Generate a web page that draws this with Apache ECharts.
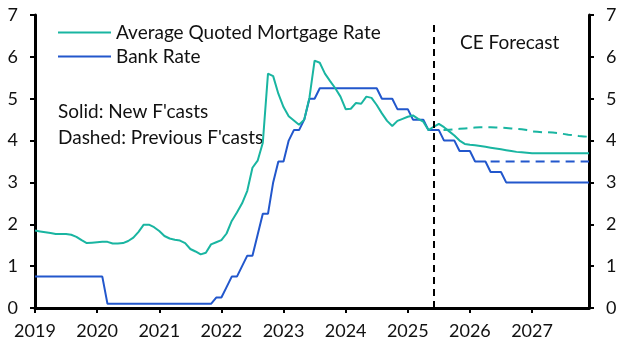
<!DOCTYPE html>
<html>
<head>
<meta charset="utf-8">
<script src="https://cdn.jsdelivr.net/npm/echarts@6/dist/echarts.min.js"></script>
<style>
  html, body { margin: 0; padding: 0; background: #fff; }
  #chart { width: 629px; height: 354px; }
</style>
</head>
<body>
<div id="chart"></div>
<script>
// --- data (monthly, Jan 2019 - Dec 2027) ---
const startYear = 2019;
const endYear = 2027;
const months = [];
for (let y = startYear; y <= endYear; y++) {
  for (let m = 1; m <= 12; m++) months.push(y + '-' + String(m).padStart(2, '0'));
}

const yTicks = [0, 1, 2, 3, 4, 5, 6, 7];

// Average quoted mortgage rate (history + new forecast)
const mortgageRate = [
  1.85, 1.83, 1.81, 1.79, 1.77, 1.77, 1.77, 1.75, 1.70, 1.62, 1.55, 1.56,
  1.57, 1.58, 1.58, 1.54, 1.54, 1.55, 1.60, 1.68, 1.82, 1.99, 1.99, 1.93,
  1.84, 1.72, 1.66, 1.63, 1.61, 1.55, 1.41, 1.35, 1.28, 1.32, 1.52, 1.57,
  1.62, 1.78, 2.08, 2.28, 2.50, 2.80, 3.35, 3.52, 3.95, 5.60, 5.54, 5.12,
  4.80, 4.58, 4.48, 4.38, 4.50, 5.02, 5.91, 5.86, 5.60, 5.42, 5.25, 5.05,
  4.75, 4.76, 4.90, 4.88, 5.05, 5.02, 4.85, 4.65, 4.47, 4.35, 4.47, 4.52,
  4.57, 4.60, 4.52, 4.45, 4.25, 4.33, 4.40, 4.32, 4.22, 4.12, 4.00, 3.92,
  3.90, 3.89, 3.87, 3.85, 3.83, 3.81, 3.79, 3.77, 3.75, 3.73, 3.72, 3.71,
  3.70, 3.70, 3.70, 3.70, 3.70, 3.70, 3.70, 3.70, 3.70, 3.70, 3.70, 3.70
];

// Bank Rate (history + new forecast)
const bankRate = [
  0.75, 0.75, 0.75, 0.75, 0.75, 0.75, 0.75, 0.75, 0.75, 0.75, 0.75, 0.75,
  0.75, 0.75, 0.10, 0.10, 0.10, 0.10, 0.10, 0.10, 0.10, 0.10, 0.10, 0.10,
  0.10, 0.10, 0.10, 0.10, 0.10, 0.10, 0.10, 0.10, 0.10, 0.10, 0.10, 0.25,
  0.25, 0.50, 0.75, 0.75, 1.00, 1.25, 1.25, 1.75, 2.25, 2.25, 3.00, 3.50,
  3.50, 4.00, 4.25, 4.25, 4.50, 5.00, 5.00, 5.25, 5.25, 5.25, 5.25, 5.25,
  5.25, 5.25, 5.25, 5.25, 5.25, 5.25, 5.25, 5.00, 5.00, 5.00, 4.75, 4.75,
  4.75, 4.50, 4.50, 4.50, 4.25, 4.25, 4.25, 4.00, 4.00, 4.00, 3.75, 3.75,
  3.75, 3.50, 3.50, 3.50, 3.25, 3.25, 3.25, 3.00, 3.00, 3.00, 3.00, 3.00,
  3.00, 3.00, 3.00, 3.00, 3.00, 3.00, 3.00, 3.00, 3.00, 3.00, 3.00, 3.00
];

// Previous forecasts (dashed), starting at the given month
const prevMortgageStart = '2025-05';
const prevMortgage = [
  4.25, 4.25, 4.25, 4.25, 4.26, 4.27, 4.28, 4.29, 4.30, 4.31, 4.32, 4.32,
  4.32, 4.31, 4.31, 4.30, 4.29, 4.28, 4.27, 4.25, 4.22, 4.21, 4.20, 4.20,
  4.19, 4.18, 4.16, 4.14, 4.13, 4.11, 4.10, 4.09
];
const prevBankStart = '2026-05';
const prevBank = [
  3.50, 3.50, 3.50, 3.50, 3.50, 3.50, 3.50, 3.50, 3.50, 3.50,
  3.50, 3.50, 3.50, 3.50, 3.50, 3.50, 3.50, 3.50, 3.50, 3.50
];

const forecastStart = '2025-06';

// 把前一次预测放到完整的月份序列上
const padFrom = (start, vals) => {
  const idx = months.indexOf(start);
  return months.map((_, i) => (i >= idx && i - idx < vals.length ? vals[i - idx] : null));
};

const TEAL = '#19b5a1';
const BLUE = '#2257cc';
const FONT = 'Lato';

const chart = echarts.init(document.getElementById('chart'));

const axisLine = { show: true, lineStyle: { color: '#000', width: 3 } };
const axisTick = { show: true, inside: false, length: 5, lineStyle: { color: '#000', width: 2 } };
const yLabel = { color: '#111', fontSize: 18, fontFamily: FONT, margin: 17 };

chart.setOption({
  animation: false,
  grid: { left: 35, right: 40, top: 15, bottom: 46, containLabel: false },
  legend: {
    data: ['Average Quoted Mortgage Rate', 'Bank Rate'],
    orient: 'vertical',
    left: 58,
    top: 22,
    padding: 0,
    icon: 'rect',
    itemWidth: 53,
    itemHeight: 2,
    itemGap: 3,
    textStyle: { color: '#111', fontSize: 19, fontFamily: FONT, lineHeight: 21 }
  },
  xAxis: {
    type: 'category',
    data: months,
    boundaryGap: false,
    axisLine: axisLine,
    axisTick: { ...axisTick, interval: (i) => i % 12 === 0 },
    axisLabel: {
      color: '#111', fontSize: 18, fontFamily: FONT, margin: 14,
      interval: (i) => i % 12 === 0,
      formatter: (v) => v.slice(0, 4)
    },
    splitLine: { show: false }
  },
  yAxis: [
    {
      type: 'value', position: 'left', min: yTicks[0], max: yTicks[yTicks.length - 1], interval: 1,
      axisLine: axisLine, axisTick: axisTick, axisLabel: yLabel, splitLine: { show: false }
    },
    {
      type: 'value', position: 'right', min: yTicks[0], max: yTicks[yTicks.length - 1], interval: 1,
      axisLine: axisLine, axisTick: axisTick, axisLabel: yLabel, splitLine: { show: false }
    }
  ],
  graphic: [
    { type: 'text', left: 58, top: 102, style: { text: "Solid: New F'casts", fill: '#111', font: '19px ' + FONT } },
    { type: 'text', left: 58, top: 128, style: { text: "Dashed: Previous F'casts", fill: '#111', font: '19px ' + FONT } },
    { type: 'text', left: 460, top: 33, style: { text: 'CE Forecast', fill: '#111', font: '19px ' + FONT } }
  ],
  series: [
    {
      name: 'prevMortgage', type: 'line', data: padFrom(prevMortgageStart, prevMortgage),
      showSymbol: false, symbol: 'none', z: 2,
      lineStyle: { color: TEAL, width: 2, type: [9, 6] }
    },
    {
      name: 'prevBank', type: 'line', data: padFrom(prevBankStart, prevBank),
      showSymbol: false, symbol: 'none', z: 2,
      lineStyle: { color: BLUE, width: 2, type: [9, 6] }
    },
    {
      name: 'Bank Rate', type: 'line', data: bankRate, color: BLUE,
      showSymbol: false, symbol: 'none', z: 3,
      lineStyle: { color: BLUE, width: 2 }
    },
    {
      name: 'Average Quoted Mortgage Rate', type: 'line', data: mortgageRate, color: TEAL,
      showSymbol: false, symbol: 'none', z: 4,
      lineStyle: { color: TEAL, width: 2 },
      markLine: {
        silent: true,
        symbol: 'none',
        label: { show: false },
        lineStyle: { color: '#000', width: 2, type: [7, 5] },
        data: [[{ coord: [forecastStart, 0] }, { coord: [forecastStart, 6.8] }]]
      }
    }
  ]
});

window.addEventListener('resize', () => chart.resize());
</script>
</body>
</html>
